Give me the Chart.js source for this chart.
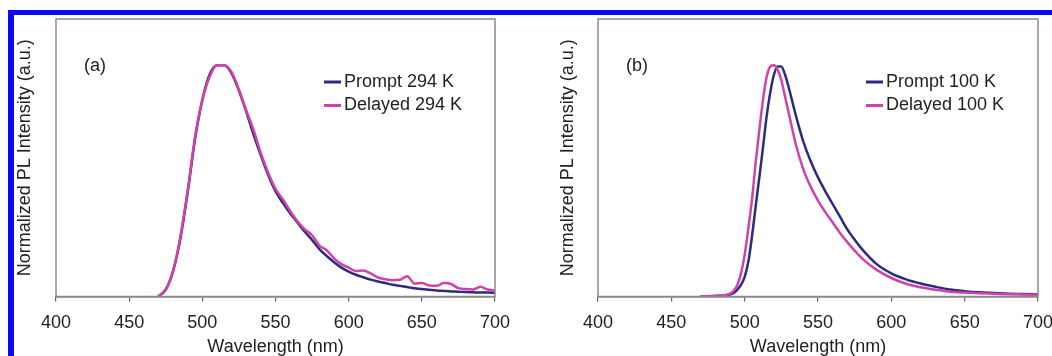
<!DOCTYPE html>
<html lang="en">
<head>
    <meta charset="UTF-8">
    <title>Prompt and delayed PL spectra</title>
    <script src="https://cdn.jsdelivr.net/npm/chart.js"></script>
    <style>
        body {
            margin: 0;
            padding: 0;
            background: #ffffff;
        }
        .figure {
            position: relative;
            width: 1052px;
            height: 356px;
            overflow: hidden;
            background: #ffffff;
        }
        .figure canvas {
            position: absolute;
            top: 0;
        }
        #chartA { left: 0; }
        #chartB { left: 530px; }
        .frame {
            position: absolute;
            left: 8px;
            top: 10px;
            right: -10px;
            bottom: -10px;
            border-top: 5px solid #0a0af5;
            border-left: 6px solid #0a0af5;
            pointer-events: none;
        }
    </style>
</head>
<body>
    <div class="figure">
        <canvas id="chartA" width="530" height="356"></canvas>
        <canvas id="chartB" width="522" height="356"></canvas>
        <div class="frame"></div>
    </div>

    <script>
        // Panel (a): 294 K
        const wlA = [470, 475, 480, 485, 490, 495, 500, 505, 510, 515, 520, 525, 530, 535, 540, 545, 550, 555, 560, 565,
                     570, 575, 580, 585, 590, 595, 600, 605, 610, 615, 620, 625, 630, 635, 640, 645, 650, 655, 660, 665,
                     670, 675, 680, 685, 690, 695, 700];
        const promptA = [0, 0.03, 0.11, 0.25, 0.45, 0.68, 0.85, 0.96, 1.0, 1.0, 0.965, 0.89, 0.80, 0.70, 0.61, 0.525, 0.455, 0.405, 0.36, 0.32,
                         0.28, 0.245, 0.205, 0.175, 0.148, 0.125, 0.108, 0.094, 0.083, 0.073, 0.065, 0.058, 0.051, 0.046, 0.041, 0.036, 0.032, 0.029, 0.026, 0.024,
                         0.022, 0.021, 0.019, 0.018, 0.017, 0.017, 0.016];
        const delayedA = [0, 0.03, 0.11, 0.26, 0.46, 0.69, 0.85, 0.95, 1.0, 1.0, 0.97, 0.895, 0.805, 0.72, 0.62, 0.535, 0.465, 0.42, 0.37, 0.325,
                          0.29, 0.265, 0.22, 0.2, 0.165, 0.14, 0.125, 0.11, 0.112, 0.1, 0.082, 0.075, 0.07, 0.072, 0.088, 0.056, 0.058, 0.048, 0.046, 0.058,
                          0.054, 0.036, 0.032, 0.03, 0.042, 0.03, 0.026];

        // Panel (b): 100 K
        const wlB = [470, 480, 485, 490, 492.5, 495, 497.5, 500, 502.5, 505, 507.5, 510, 512.5, 515, 517.5, 520, 522.5, 525, 527.5, 530,
                     535, 540, 545, 550, 555, 560, 565, 570, 575, 580, 590, 600, 610, 620, 630, 640, 650, 660, 670, 680, 690, 700];
        const promptB = [0, 0.002, 0.004, 0.008, 0.015, 0.03, 0.05, 0.085, 0.15, 0.26, 0.39, 0.515, 0.645, 0.78, 0.885, 0.96, 0.995, 0.995, 0.96, 0.905,
                         0.78, 0.67, 0.585, 0.515, 0.455, 0.4, 0.345, 0.29, 0.245, 0.205, 0.14, 0.1, 0.074, 0.056, 0.042, 0.03, 0.023, 0.018, 0.015, 0.012, 0.011, 0.01];
        const delayedB = [0, 0.003, 0.005, 0.012, 0.025, 0.05, 0.1, 0.18, 0.295, 0.42, 0.58, 0.72, 0.85, 0.95, 0.995, 1.0, 0.98, 0.935, 0.865, 0.795,
                          0.655, 0.55, 0.475, 0.415, 0.365, 0.32, 0.275, 0.235, 0.198, 0.165, 0.115, 0.08, 0.055, 0.04, 0.029, 0.021, 0.017, 0.014, 0.012, 0.01, 0.009, 0.008];

        const xTicks = [400, 450, 500, 550, 600, 650, 700];

        const FONT = '"Liberation Sans", Arial, sans-serif';
        const TEXT = '#222222';
        const PROMPT_COLOR = '#2c2b80';
        const DELAYED_COLOR = '#d042aa';

        // box around the plot, panel letter and legend inside the plot area
        const panelDecor = {
            id: 'panelDecor',
            afterDatasetsDraw(chart, args, opts) {
                const { ctx, chartArea: a } = chart;
                ctx.save();
                ctx.strokeStyle = '#8a8a8a';
                ctx.lineWidth = 1.5;
                ctx.strokeRect(a.left, a.top, a.right - a.left, a.bottom - a.top);

                ctx.font = '18px ' + FONT;
                ctx.fillStyle = TEXT;
                ctx.textBaseline = 'middle';
                ctx.fillText(opts.label, a.left + 28, a.top + 47);

                const order = [1, 0];
                order.forEach((di, row) => {
                    const ds = chart.data.datasets[di];
                    const y = a.top + 63 + row * 23.5;
                    ctx.strokeStyle = ds.borderColor;
                    ctx.lineWidth = 3;
                    ctx.beginPath();
                    ctx.moveTo(a.left + 268, y);
                    ctx.lineTo(a.left + 285, y);
                    ctx.stroke();
                    ctx.fillText(ds.label, a.left + 288, y);
                });
                ctx.restore();
            }
        };

        function makeChart(id, wl, prompt, delayed, temp, label, yWidth, titlePad, rightPad) {
            return new Chart(document.getElementById(id), {
                type: 'line',
                data: {
                    datasets: [{
                        label: 'Delayed ' + temp,
                        data: wl.map((w, i) => ({ x: w, y: delayed[i] })),
                        borderColor: DELAYED_COLOR,
                        borderWidth: 2.5,
                        pointRadius: 0,
                        cubicInterpolationMode: 'monotone',
                        order: 0
                    }, {
                        label: 'Prompt ' + temp,
                        data: wl.map((w, i) => ({ x: w, y: prompt[i] })),
                        borderColor: PROMPT_COLOR,
                        borderWidth: 2.5,
                        pointRadius: 0,
                        cubicInterpolationMode: 'monotone',
                        order: 1
                    }]
                },
                options: {
                    responsive: false,
                    animation: false,
                    events: [],
                    layout: { padding: { top: 19, right: rightPad, left: 0, bottom: 0 } },
                    plugins: {
                        legend: { display: false },
                        tooltip: { enabled: false },
                        panelDecor: { label: label }
                    },
                    scales: {
                        x: {
                            type: 'linear',
                            min: 400,
                            max: 700,
                            afterBuildTicks: s => { s.ticks = xTicks.map(v => ({ value: v })); },
                            afterFit: s => { s.height = 59.5; s.paddingLeft = 0; s.paddingRight = 0; },
                            grid: { display: true, drawOnChartArea: false, drawTicks: true, tickLength: 5, color: '#666', lineWidth: 1.2 },
                            border: { display: true, color: '#555', width: 1.5 },
                            ticks: { color: TEXT, padding: 11, maxRotation: 0, font: { family: FONT, size: 18 } },
                            title: {
                                display: true,
                                text: 'Wavelength (nm)',
                                color: TEXT,
                                padding: 0,
                                font: { family: FONT, size: 18, lineHeight: 1.03 }
                            }
                        },
                        y: {
                            min: 0,
                            max: 1.2,
                            afterFit: s => { s.width = yWidth; },
                            grid: { display: false },
                            border: { display: false },
                            ticks: { display: false },
                            title: {
                                display: true,
                                text: 'Normalized PL Intensity (a.u.)',
                                color: TEXT,
                                padding: { top: titlePad, bottom: 0 },
                                font: { family: FONT, size: 18, lineHeight: 1.03 }
                            }
                        }
                    }
                },
                plugins: [panelDecor]
            });
        }

        makeChart('chartA', wlA, promptA, delayedA, '294 K', '(a)', 56, 16, 35);
        makeChart('chartB', wlB, promptB, delayedB, '100 K', '(b)', 68, 29, 14);
    </script>
</body>
</html>
